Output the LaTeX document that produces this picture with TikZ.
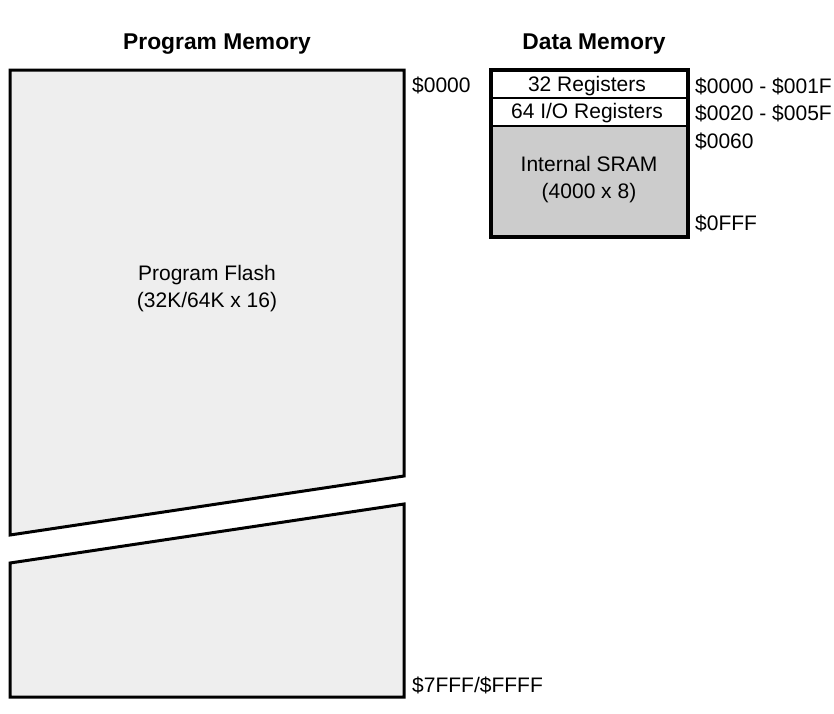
\documentclass[tikz,border=0pt]{standalone}
\usepackage{fontspec}
\setmainfont{Liberation Sans}
\definecolor{flashgray}{HTML}{EEEEEE}
\definecolor{sramgray}{HTML}{CCCCCC}
\begin{document}
\begin{tikzpicture}[x=1pt,y=-1pt,
  title/.style={font=\fontsize{22.8}{27}\selectfont\bfseries, inner sep=0pt},
  lbl/.style={font=\fontsize{21}{24}\selectfont, inner sep=0pt},
  outer/.style={draw=black, line width=3pt, line join=miter},
  inner/.style={draw=black, line width=2pt}]
\useasboundingbox (0,0) rectangle (834,713);
% Program memory
\draw[outer, fill=flashgray] (10,70) -- (404,70) -- (404,476) -- (10,535) -- cycle;
\draw[outer, fill=flashgray] (10,563) -- (404,504) -- (404,697) -- (10,697) -- cycle;
\node[title] (pmt) at (217,44) {Program Memory};
\node[lbl, align=center] (flash) at (207,289) {Program Flash\\[3pt](32K/64K x 16)};
\node[lbl, anchor=west] (a0) at (412,85) {\$0000};
\node[lbl, anchor=west] (a1) at (412,685) {\$7FFF/\$FFFF};
% Data memory
\fill[white] (491,70) rectangle (688,126);
\fill[sramgray] (491,126) rectangle (688,237);
\draw[inner] (491,98) -- (688,98);
\draw[inner] (491,126) -- (688,126);
\draw[draw=black, line width=3.5pt] (491,70) rectangle (688,237);
\node[title] (dmt) at (594,44) {Data Memory};
\node[lbl] (r32) at (587,86) {32 Registers};
\node[lbl] (r64) at (587,113) {64 I/O Registers};
\node[lbl, align=center] (sram) at (589,180) {Internal SRAM\\[3pt](4000 x 8)};
\node[lbl, anchor=west] (d0) at (695,86) {\$0000 - \$001F};
\node[lbl, anchor=west] (d1) at (695,113) {\$0020 - \$005F};
\node[lbl, anchor=west] (d2) at (695,141) {\$0060};
\node[lbl, anchor=west] (d3) at (695,223) {\$0FFF};
\end{tikzpicture}
\end{document}
